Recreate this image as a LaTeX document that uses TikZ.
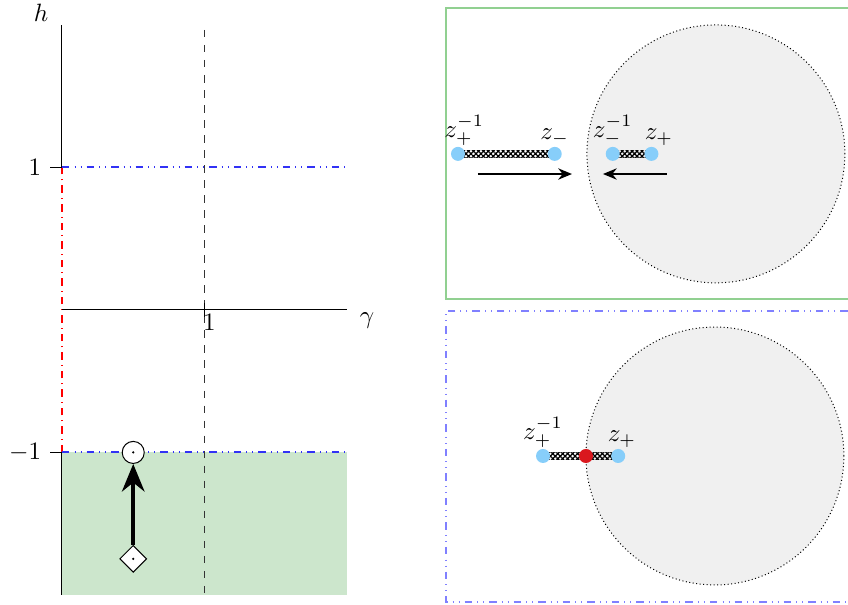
\documentclass[tikz,border=0pt]{standalone}
\usetikzlibrary{arrows.meta,patterns.meta,shapes.geometric}

\definecolor{rootblue}{RGB}{135,206,250}
\definecolor{pointred}{RGB}{218,24,30}
\definecolor{discgray}{RGB}{240,240,240}
\definecolor{regiongreen}{RGB}{204,230,204}
\definecolor{boxgreen}{RGB}{145,208,145}
\definecolor{boxblue}{RGB}{128,128,255}
\definecolor{levelblue}{RGB}{50,50,245}

\begin{document}
\begin{tikzpicture}[x=2cm,y=2cm]
\tikzstyle{axis_style} = [black]
\tikzstyle{level_style} = [draw=levelblue, dash dot dot, line width=0.8pt]
\tikzstyle{box_style} = [line width=0.6pt]
\tikzstyle{disc_style} = [fill=discgray, draw=black, densely dotted]
\tikzstyle{root_style} = [circle, fill=rootblue, inner sep=0pt, minimum size=5.6pt]
\tikzstyle{tag_style} = [inner sep=0.5pt, yshift=-0.3pt]
\tikzstyle{cut_style} = [pattern={Hatch[angle=45,distance=1.4pt,line width=0.5pt]}]
\tikzstyle{flow_style} = [-{Stealth[length=5.5pt,width=4.5pt]}, line width=0.8pt]

    \useasboundingbox (-0.435,-2.07) rectangle (5.516,2.175);

    % left: the (gamma, h) plane
    \fill[regiongreen] (0,-1) rectangle (2,-2);
    \draw[axis_style] (0,-2) -- (0,-1);
    \draw[red, dash dot, semithick] (0,-1) -- (0,1);
    \draw[axis_style] (0,1) -- (0,2);
    \draw[axis_style] (0,0) -- (2,0);
    \draw[black!80, dashed, semithick] (1,1.965) -- (1,-2);
    \draw[level_style] (0,1) -- (2,1);
    \draw[level_style] (0,-1) -- (2,-1);
    \draw[axis_style] (-0.084,1) -- (0,1);
    \draw[axis_style] (-0.084,-1) -- (0,-1);
    \draw[axis_style] (1,0.05) -- (1,-0.05);

    \node[left] (one) at (-0.084,1) {$1$};
    \node[left] (mone) at (-0.084,-1) {$-1$};
    \node (hlab) at (-0.147,2.084) {$h$};
    \node (glab) at (2.14,-0.077) {$\gamma$};
    \node (gone) at (1.035,-0.088) {$1$};

    \node[circle, draw, fill=white, inner sep=0pt, minimum size=8.8pt] (end) at (0.5,-1) {};
    \node[diamond, draw, fill=white, inner sep=0pt, minimum size=10.8pt] (start) at (0.5,-1.747) {};
    \fill (end.center) circle (0.5pt);
    \fill (start.center) circle (0.5pt);
    \draw[-{Stealth[length=11pt,width=9pt]}, ultra thick] (start) -- (end);

    % right, top: two cuts
    \draw[boxgreen, box_style] (5.516,2.119) -- (2.695,2.119) -- (2.695,0.077) -- (5.516,0.077);
    \begin{scope}[shift={(4.589,1.095)}, scale=0.905]
        \draw[disc_style] (0,0) circle (1);
        \coordinate (zpi) at (-2,0);
        \coordinate (zm) at (-1.25,0);
        \coordinate (zmi) at (-0.8,0);
        \coordinate (zp) at (-0.5,0);
        \fill[cut_style] ([yshift=1.4pt]zpi) rectangle ([yshift=-1.4pt]zm);
        \fill[cut_style] ([yshift=1.4pt]zmi) rectangle ([yshift=-1.4pt]zp);
        \node[root_style, label={[tag_style, xshift=2.5pt]above:{$z_+^{-1}$}}] (r1) at (zpi) {};
        \node[root_style, label={[tag_style]above:{$z_-$}}] (r2) at (zm) {};
        \node[root_style, label={[tag_style]above:{$z_-^{-1}$}}] (r3) at (zmi) {};
        \node[root_style, label={[tag_style, xshift=3pt]above:{$z_+$}}] (r4) at (zp) {};

        \coordinate (a1) at (-1.845,-0.156);
        \coordinate (b1) at (-1.116,-0.156);
        \coordinate (a2) at (-0.38,-0.156);
        \coordinate (b2) at (-0.876,-0.156);
        \draw[flow_style] (a1) -- (b1);
        \draw[flow_style] (a2) -- (b2);
    \end{scope}

    % right, bottom: one cut through the circle
    \draw[boxblue, dash dot dot, box_style] (5.516,-0.007) -- (2.695,-0.007) -- (2.695,-2.05) -- (5.516,-2.05);
    \begin{scope}[shift={(4.582,-1.025)}, scale=0.905]
        \draw[disc_style] (0,0) circle (1);
        \coordinate (wpi) at (-1.333,0);
        \coordinate (wc) at (-1,0);
        \coordinate (wp) at (-0.75,0);
        \fill[cut_style] ([yshift=1.4pt]wpi) rectangle ([yshift=-1.4pt]wp);
        \node[root_style, label={[tag_style]above:{$z_+^{-1}$}}] (s1) at (wpi) {};
        \node[root_style, fill=pointred] (s2) at (wc) {};
        \node[root_style, label={[tag_style, xshift=1.5pt]above:{$z_+$}}] (s3) at (wp) {};
    \end{scope}
\end{tikzpicture}
\end{document}
